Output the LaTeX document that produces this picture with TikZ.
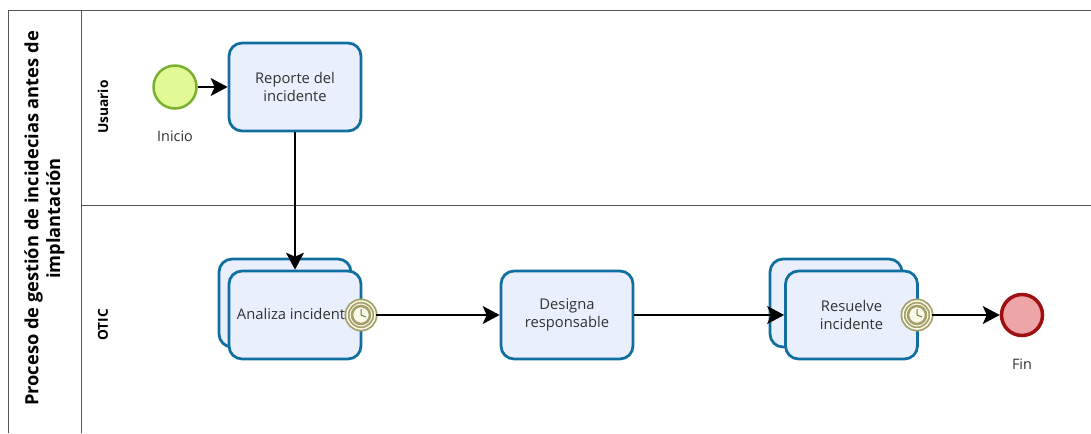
\documentclass[tikz,border=0pt]{standalone}
\usepackage{fontspec}
\setmainfont{Open Sans}
\usetikzlibrary{arrows.meta}
\definecolor{taskblue}{RGB}{16,111,158}
\definecolor{taskfill}{RGB}{234,239,254}
\definecolor{startline}{RGB}{122,176,46}
\definecolor{startfill}{RGB}{225,250,150}
\definecolor{endline}{RGB}{158,16,16}
\definecolor{endfill}{RGB}{238,165,168}
\definecolor{timerline}{RGB}{164,158,104}
\definecolor{timerfill}{RGB}{250,250,232}
\definecolor{poolline}{RGB}{85,85,85}
\definecolor{labelgray}{RGB}{50,50,50}
\tikzset{
  task/.style={draw=taskblue, fill=taskfill, line width=.055cm, rounded corners=.26cm,
    minimum width=2.64cm, minimum height=1.76cm, inner sep=0pt, align=center,
    font=\fontsize{8.4}{10.2}\selectfont, text=labelgray},
  event/.style={circle, line width=.05cm, minimum size=.86cm, inner sep=0pt},
  timer/.style={circle, draw=timerline, fill=timerfill, line width=.035cm, double=timerfill,
    double distance=.03cm, minimum size=.56cm, inner sep=0pt},
  timerin/.style={circle, draw=timerline, fill=timerfill, line width=.05cm, minimum size=.36cm, inner sep=0pt},
  flow/.style={-{Stealth[length=.34cm,width=.36cm,inset=.08cm]}, line width=.028cm, black},
  poolrule/.style={draw=poolline, line width=.024cm},
  caption/.style={font=\fontsize{8.2}{10}\selectfont, text=labelgray},
  lanetitle/.style={rotate=90, font=\bfseries\fontsize{7.8}{9}\selectfont, black, inner sep=0pt},
}
\begin{document}
\begin{tikzpicture}[x=.02cm, y=-.02cm]
\useasboundingbox (0,0) rectangle (1091,433);
% pool and lanes
\draw[poolrule] (8.5,433)--(8.5,10.5)--(1091,10.5);
\draw[poolrule] (81.5,10.5)--(81.5,433);
\draw[poolrule] (81.5,205.5)--(1091,205.5);
\node[rotate=90, align=center, inner sep=0pt, font=\bfseries\fontsize{10.4}{12.4}\selectfont] (pooltitle) at (44.5,218.5) {Proceso de gestión de incidecias antes de\\implantación};
\node[lanetitle] (usuario) at (103,107) {Usuario};
\node[lanetitle] (otic) at (103,325) {OTIC};
% Usuario
\node[event, draw=startline, fill=startfill] (inicio) at (175,87) {};
\node[caption] (inicioText) at (175,136) {Inicio};
\node[task] (reporte) at (295,87) {Reporte del\\incidente};
% OTIC
\node[task] (analizaBack) at (285,303) {};
\node[task] (analiza) at (295,315) {};
\node[font=\fontsize{8.4}{10}\selectfont, text=labelgray, inner sep=0pt] (analizaText) at (291,314) {Analiza incident};
\node[timer] (timerA) at (361,315) {};
\node[timerin] (timerAin) at (361,315) {};
\node[task] (designa) at (567,315) {Designa\\responsable};
\node[task] (resuelveBack) at (836,303) {};
\node[task] (resuelve) at (851.5,315) {Resuelve\\incidente};
\node[timer] (timerB) at (917,315) {};
\node[timerin] (timerBin) at (917,315) {};
\node[event, draw=endline, fill=endfill, line width=.07cm, minimum size=.82cm] (fin) at (1022,315) {};
\node[caption] (finText) at (1022,364) {Fin};
% clock hands
\foreach \t in {timerAin,timerBin}{
  \draw[timerline!70!black, line width=.02cm] (\t.center)++(0,-6)--(\t.center)--++(5,2);
}
% flows
\draw[flow] (inicio)--(reporte);
\draw[flow] (reporte)--(analiza);
\draw[flow] (timerA)--(designa);
\draw[flow] (designa)--(resuelve);
\draw[flow] (timerB)--(fin);
\end{tikzpicture}
\end{document}
